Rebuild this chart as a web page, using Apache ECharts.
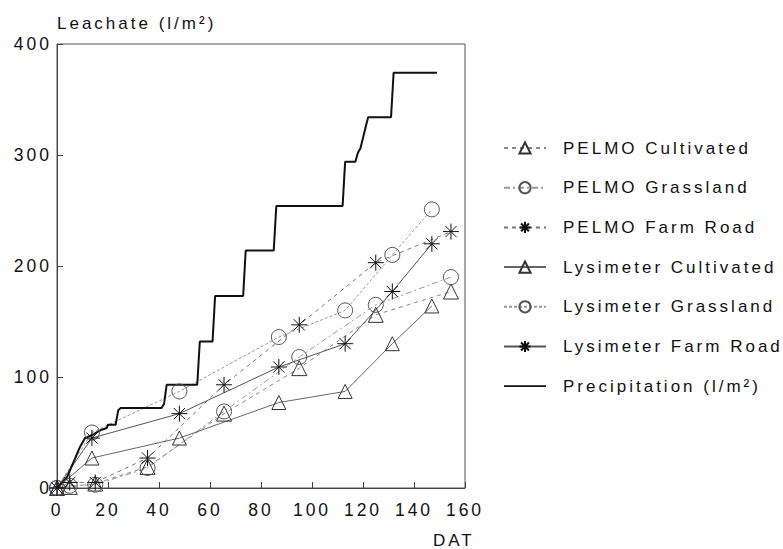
<!DOCTYPE html>
<html><head><meta charset="utf-8">
<script src="https://cdn.jsdelivr.net/npm/echarts@6/dist/echarts.min.js"></script>
<style>
html,body{margin:0;padding:0;background:#fff;}
#chart{width:783px;height:549px;}
#chart svg text{letter-spacing:3px;}
</style></head><body><div id="chart"></div>
<script>
// ---- data ----
const xTicks = [0, 20, 40, 60, 80, 100, 120, 140, 160];
const yTicks = [0, 100, 200, 300, 400];

const precipDays = [0, 4, 9, 11, 14, 17, 19.5, 20, 23, 24, 25, 41, 42, 43, 55, 56, 61, 62, 73, 74, 85, 86, 112, 113, 117, 118, 119, 122, 131, 132, 149];
const precipVals = [0, 10, 37, 45, 48, 52, 54, 57, 57, 70, 72, 72, 76, 93, 93, 132, 132, 173, 173, 214, 214, 254, 254, 294, 294, 302, 306, 334, 334, 374, 374];

const pelmoDays = [0, 5, 15, 35.5, 65.5, 95, 125, 154.5];
const pelmoCultivated = [0, 1, 4, 19, 67, 108, 156, 177];
const pelmoGrassland = [0, 2, 3, 18, 69, 118, 165, 190];
const pelmoFarmRoad = [0, 5, 5, 27, 93, 147, 203, 231];

const lysDays = [0, 13.7, 48, 87, 113, 131.5, 147];
const lysCultivated = [0, 27, 45, 77, 87, 130, 164];
const lysGrassland = [0, 50, 87, 136, 160, 210, 251];
const lysFarmRoad = [0, 45, 67, 109, 130, 177, 220];

const seriesNames = ['PELMO Cultivated', 'PELMO Grassland', 'PELMO Farm Road',
  'Lysimeter Cultivated', 'Lysimeter Grassland', 'Lysimeter Farm Road', 'Precipitation (l/m\u00B2)'];

// ---- build ----
const FONT = 'Liberation Sans';
const zip = (xs, ys) => xs.map((x, i) => [x, ys[i]]);
const STAR = 'path://M10,0 L10,20 M0,10 L20,10 M3,3 L17,17 M3,17 L17,3';
const LINE_ICON = 'path://M0,0 L42,0 L42,1.8 L0,1.8 Z';

function mk(name, xs, ys, symbol, size, dash, lineColor, symColor) {
  return {
    name: name, type: 'line', data: zip(xs, ys),
    symbol: symbol, symbolSize: size, showAllSymbol: true,
    lineStyle: { color: lineColor, width: 1, type: dash },
    itemStyle: { color: 'rgba(255,255,255,0)', borderColor: symColor, borderWidth: 1 },
    emphasis: { disabled: true }, animation: false
  };
}

const series = [
  mk(seriesNames[0], pelmoDays, pelmoCultivated, 'triangle', 15, [4, 4], '#888', '#333'),
  mk(seriesNames[1], pelmoDays, pelmoGrassland, 'circle', 15, [6, 3, 2, 3], '#999', '#555'),
  mk(seriesNames[2], pelmoDays, pelmoFarmRoad, STAR, 16, [4, 4], '#777', '#111'),
  mk(seriesNames[3], lysDays, lysCultivated, 'triangle', 14, 'solid', '#666', '#333'),
  mk(seriesNames[4], lysDays, lysGrassland, 'circle', 15, [3, 2], '#999', '#555'),
  mk(seriesNames[5], lysDays, lysFarmRoad, STAR, 16, 'solid', '#555', '#111'),
  {
    name: seriesNames[6], type: 'line', data: zip(precipDays, precipVals),
    symbol: 'none', lineStyle: { color: '#111', width: 2 },
    itemStyle: { color: '#111' },
    emphasis: { disabled: true }, animation: false, z: 3
  }
];

const legendData = seriesNames.map((n, i) => i === 6 ? { name: n, icon: LINE_ICON, itemStyle: { color: '#111' } } : n);

const chart = echarts.init(document.getElementById('chart'), null, { renderer: 'svg', width: 783, height: 549 });
chart.setOption({
  animation: false,
  backgroundColor: '#fff',
  textStyle: { fontFamily: FONT },
  grid: { left: 57, top: 44, width: 408, height: 444, show: true, borderColor: '#555', borderWidth: 1, containLabel: false },
  xAxis: {
    type: 'value', min: xTicks[0], max: xTicks[xTicks.length - 1], interval: 20,
    axisLine: { show: true, lineStyle: { color: '#444', width: 1 } },
    axisTick: { show: true, inside: true, length: 6, lineStyle: { color: '#444' } },
    axisLabel: { margin: 13, fontSize: 17.5, color: '#111', fontFamily: FONT, showMinLabel: true, showMaxLabel: true },
    splitLine: { show: false }
  },
  yAxis: {
    type: 'value', min: yTicks[0], max: yTicks[yTicks.length - 1], interval: 100,
    name: 'Leachate (l/m\u00B2)', nameLocation: 'end', nameGap: 12,
    nameTextStyle: { align: 'left', fontSize: 17, color: '#111', fontFamily: FONT },
    axisLine: { show: true, lineStyle: { color: '#444', width: 1 } },
    axisTick: { show: true, inside: true, length: 6, lineStyle: { color: '#444' } },
    axisLabel: { margin: 5, fontSize: 17.5, color: '#111', fontFamily: FONT },
    splitLine: { show: false }
  },
  legend: {
    data: legendData, orient: 'vertical', left: 498, top: 133,
    itemWidth: 42, itemHeight: 14, itemGap: 19.7, selectedMode: false,
    textStyle: { fontFamily: FONT, fontSize: 17, color: '#111', lineHeight: 20, padding: [0, 0, 0, 12] }
  },
  graphic: [{
    type: 'text', left: 433, top: 532,
    style: { text: 'DAT', font: '17px "Liberation Sans"', fill: '#111' }
  }],
  series: series
});
</script></body></html>
